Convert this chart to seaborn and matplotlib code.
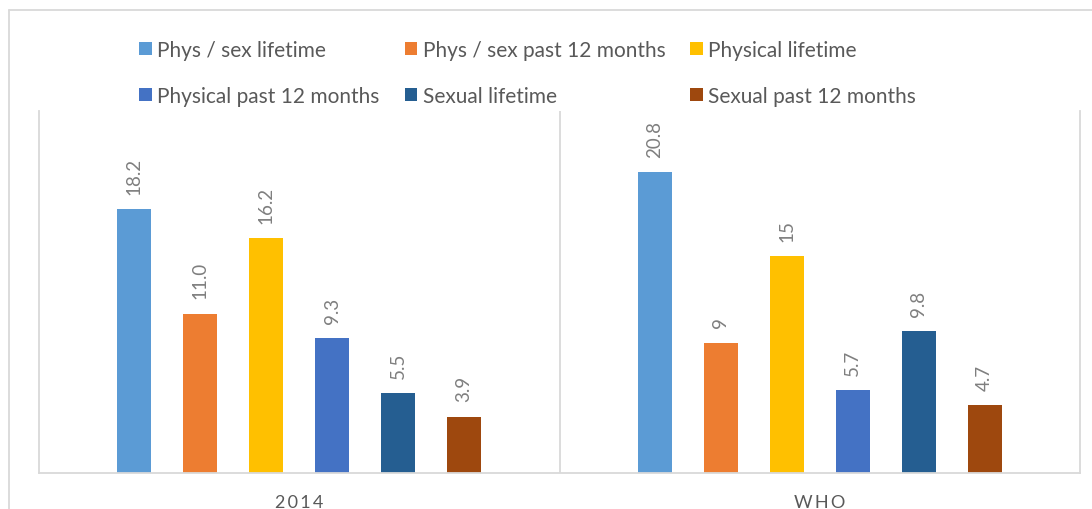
import matplotlib
matplotlib.use("Agg")
import matplotlib.pyplot as plt
from matplotlib.lines import Line2D
import seaborn as sns
import pandas as pd

categories = ["2014", "WHO"]
series = ["Phys / sex lifetime", "Phys / sex past 12 months", "Physical lifetime",
          "Physical past 12 months", "Sexual lifetime", "Sexual past 12 months"]
values_2014 = [18.2, 11.0, 16.2, 9.3, 5.5, 3.9]
values_who = [20.8, 9, 15, 5.7, 9.8, 4.7]
labels_2014 = ["18.2", "11.0", "16.2", "9.3", "5.5", "3.9"]
labels_who = ["20.8", "9", "15", "5.7", "9.8", "4.7"]
colors = ["#5B9BD5", "#ED7D31", "#FFC000", "#4472C4", "#255E91", "#9E480E"]

sns.set_theme(style="white")
plt.rcParams['font.family'] = ['Lato', 'DejaVu Sans']

rows = []
for s, v1, v2 in zip(series, values_2014, values_who):
    rows.append({"category": categories[0], "series": s, "value": v1})
    rows.append({"category": categories[1], "series": s, "value": v2})
df = pd.DataFrame(rows)

fig = plt.figure(figsize=(10.92, 5.10), dpi=100)
ax = fig.add_axes([39/1092, 36/510, (1080-39)/1092, (472-110)/510])

sns.barplot(data=df, x="category", y="value", hue="series", hue_order=series,
            order=categories, palette=colors, width=0.76, gap=0.485,
            saturation=1, ax=ax, legend=True, edgecolor="none")

label_map = {s: (l1, l2) for s, l1, l2 in zip(series, labels_2014, labels_who)}
for cont, s in zip(ax.containers, series):
    ax.bar_label(cont, labels=list(label_map[s]), rotation=90, padding=11,
                 color="#7F7F7F", fontsize=13.5)

ax.set_ylim(0, 25)
ax.set_xlim(-0.5, 1.5)
ax.set_yticks([])
ax.set_xlabel("")
ax.set_ylabel("")
ax.set_xticks([0, 1])
ax.set_xticklabels(["\u2009".join(c) for c in categories], color="#595959", fontsize=13)
ax.tick_params(axis="x", length=0, pad=15)
for side in ["left", "right", "bottom"]:
    ax.spines[side].set_color("#D9D9D9")
    ax.spines[side].set_linewidth(1.3)
ax.spines["top"].set_visible(False)
ax.axvline(0.5, color="#D9D9D9", lw=1.3)

handles, labs = ax.get_legend_handles_labels()
ax.get_legend().remove()
order = [0, 3, 1, 4, 2, 5]
leg = fig.legend([handles[i] for i in order], [labs[i] for i in order],
                 ncol=3, loc="upper left", bbox_to_anchor=(139/1092, 1 - 41/510),
                 frameon=False, fontsize=15, handlelength=0.62, handleheight=0.62,
                 handletextpad=0.25, labelspacing=1.25, columnspacing=1.2,
                 borderpad=0, borderaxespad=0)
for t in leg.get_texts():
    t.set_color("#595959")

fig.add_artist(Line2D([9/1092, 9/1092], [0, 1 - 11/510], transform=fig.transFigure,
                      color="#D9D9D9", lw=1.3))
fig.add_artist(Line2D([9/1092, 1], [1 - 11/510, 1 - 11/510], transform=fig.transFigure,
                      color="#D9D9D9", lw=1.3))

fig.savefig("out.png", dpi=100)
